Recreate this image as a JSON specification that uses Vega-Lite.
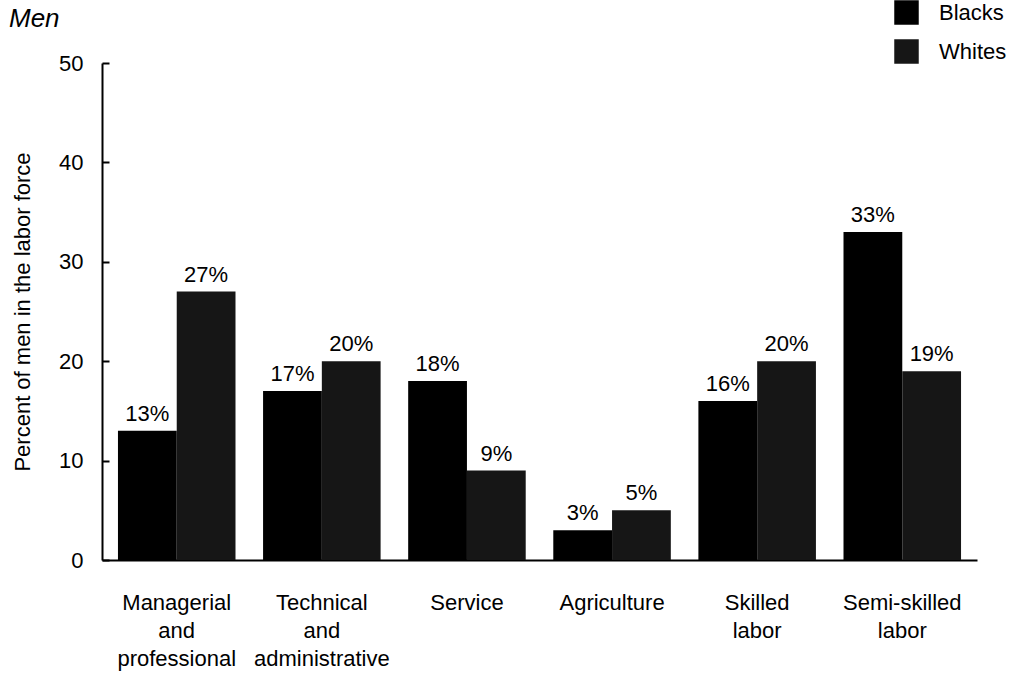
{
  "$schema": "https://vega.github.io/schema/vega-lite/v6.json",
  "autosize": "none",
  "width": 875,
  "height": 497,
  "padding": {"left": 102, "top": 63, "right": 37, "bottom": 119},
  "background": "white",
  "config": {
    "font": "Liberation Sans",
    "view": {"stroke": null}
  },
  "data": {
    "values": [
      {"occupation": "Managerial and professional", "race": "Blacks", "percent": 13},
      {"occupation": "Managerial and professional", "race": "Whites", "percent": 27},
      {"occupation": "Technical and administrative", "race": "Blacks", "percent": 17},
      {"occupation": "Technical and administrative", "race": "Whites", "percent": 20},
      {"occupation": "Service", "race": "Blacks", "percent": 18},
      {"occupation": "Service", "race": "Whites", "percent": 9},
      {"occupation": "Agriculture", "race": "Blacks", "percent": 3},
      {"occupation": "Agriculture", "race": "Whites", "percent": 5},
      {"occupation": "Skilled labor", "race": "Blacks", "percent": 16},
      {"occupation": "Skilled labor", "race": "Whites", "percent": 20},
      {"occupation": "Semi-skilled labor", "race": "Blacks", "percent": 33},
      {"occupation": "Semi-skilled labor", "race": "Whites", "percent": 19}
    ]
  },
  "encoding": {
    "x": {
      "field": "occupation",
      "type": "nominal",
      "sort": null,
      "scale": {"paddingInner": 0.19, "paddingOuter": 0.11},
      "axis": {
        "title": null,
        "labelAngle": 0,
        "labelExpr": "split(datum.label, ' ')",
        "labelFontSize": 22,
        "labelColor": "black",
        "labelLineHeight": 28,
        "labelPadding": 32,
        "labelBaseline": "top",
        "ticks": false,
        "domainColor": "black",
        "domainWidth": 2
      }
    },
    "xOffset": {"field": "race", "type": "nominal"},
    "y": {
      "field": "percent",
      "type": "quantitative",
      "scale": {"domain": [0, 50]},
      "axis": {
        "title": "Percent of men in the labor force",
        "titleFontSize": 22,
        "titleFontWeight": "normal",
        "titleColor": "black",
        "titlePadding": 24,
        "values": [0, 10, 20, 30, 40, 50],
        "grid": false,
        "labelFontSize": 22,
        "labelColor": "black",
        "tickSize": -7,
        "tickWidth": 2,
        "tickColor": "black",
        "labelPadding": 26,
        "domainColor": "black",
        "domainWidth": 2
      }
    }
  },
  "layer": [
    {
      "mark": {"type": "bar"},
      "encoding": {
        "color": {
          "field": "race",
          "type": "nominal",
          "scale": {"domain": ["Blacks", "Whites"], "range": ["#000000", "#161616"]},
          "legend": {
            "title": null,
            "orient": "none",
            "legendX": 792,
            "legendY": -63,
            "symbolType": "square",
            "symbolSize": 600,
            "symbolStrokeWidth": 0,
            "symbolOpacity": 1,
            "labelFontSize": 22,
            "labelColor": "black",
            "labelOffset": 20,
            "rowPadding": 14
          }
        }
      }
    },
    {
      "transform": [{"calculate": "datum.percent + '%'", "as": "label"}],
      "mark": {"type": "text", "baseline": "alphabetic", "dy": -10, "fontSize": 22, "color": "black"},
      "encoding": {
        "text": {"field": "label", "type": "nominal"},
        "detail": {"field": "race"}
      }
    },
    {
      "data": {"values": [{"label": "Men"}]},
      "mark": {"type": "text", "align": "left", "baseline": "alphabetic", "fontSize": 26, "fontStyle": "italic", "color": "black", "x": -93, "y": -36},
      "encoding": {"text": {"field": "label"}, "x": null, "y": null, "xOffset": null}
    }
  ]
}
